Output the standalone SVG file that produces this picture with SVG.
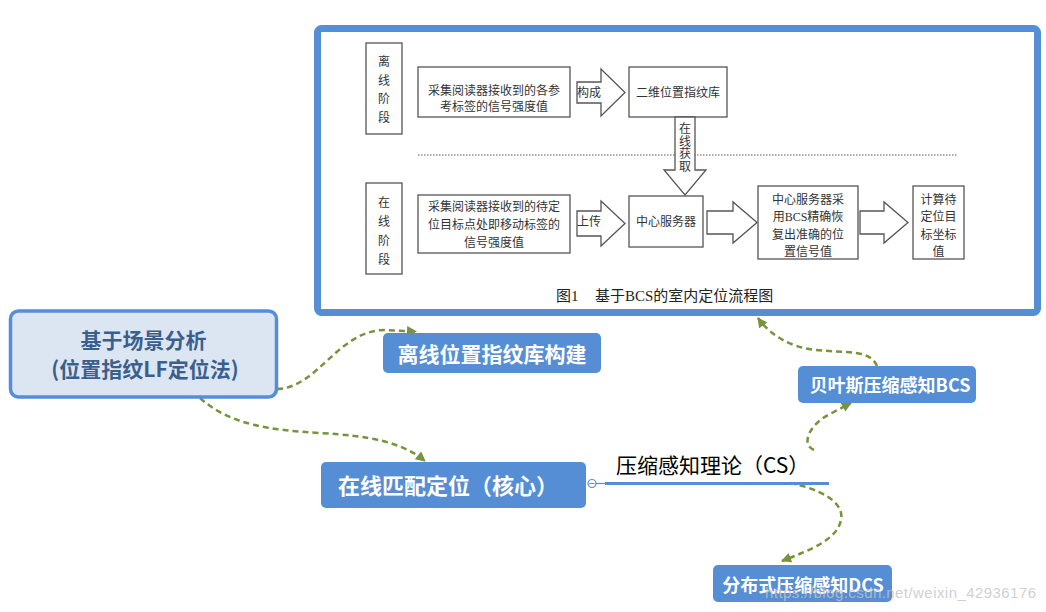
<svg xmlns="http://www.w3.org/2000/svg" width="1046" height="612" viewBox="0 0 1046 612">
<defs>
<style>
.fc{fill:#fff;stroke:#555;stroke-width:1.3}
.ft{font-family:"Liberation Serif","Noto Sans CJK SC",serif;font-size:12px;fill:#333;text-anchor:middle}
.blk{fill:#558ed5}
.wt{font-family:"Noto Sans CJK SC","Noto Sans",sans-serif;font-weight:bold;fill:#fff;text-anchor:middle}
.con{fill:none;stroke:#77933c;stroke-width:2.5;stroke-dasharray:6 4}
</style>
<marker id="ah" viewBox="0 0 10 10" refX="9" refY="5" markerUnits="userSpaceOnUse" markerWidth="11" markerHeight="10" orient="auto">
<path d="M0,0 L10,5 L0,10 Z" fill="#77933c"/>
</marker>
</defs>
<rect width="1046" height="612" fill="#fff"/>

<g id="figure">
<rect x="317.5" y="28.5" width="720" height="284" rx="4" fill="#fff" stroke="#558ed5" stroke-width="7"/>
<rect class="fc" x="366" y="43" width="36" height="91"/>
<text class="ft" x="384" y="66">离</text>
<text class="ft" x="384" y="84.5">线</text>
<text class="ft" x="384" y="103">阶</text>
<text class="ft" x="384" y="121.5">段</text>
<rect class="fc" x="418" y="67" width="152" height="50"/>
<text class="ft" x="494" y="94.5">采集阅读器接收到的各参</text>
<text class="ft" x="494" y="111">考标签的信号强度值</text>
<polygon class="fc" points="577,82 601,82 601,69 625,92.5 601,116 601,103 577,103"/>
<text class="ft" x="589" y="97">构成</text>
<rect class="fc" x="629" y="67" width="98" height="50"/>
<text class="ft" x="678" y="96.5">二维位置指纹库</text>
<line x1="418" y1="155" x2="958" y2="155" stroke="#555" stroke-width="1" stroke-dasharray="1.5 1.5"/>
<polygon class="fc" points="675,117 695,117 695,170 706,170 685,195 664,170 675,170"/>
<text class="ft" x="685" y="132.5">在</text>
<text class="ft" x="685" y="145.5">线</text>
<text class="ft" x="685" y="158">获</text>
<text class="ft" x="685" y="171">取</text>
<rect class="fc" x="366" y="183" width="36" height="91"/>
<text class="ft" x="384" y="207">在</text>
<text class="ft" x="384" y="226">线</text>
<text class="ft" x="384" y="244.5">阶</text>
<text class="ft" x="384" y="263.5">段</text>
<rect class="fc" x="418" y="195" width="152" height="58"/>
<text class="ft" x="494" y="211">采集阅读器接收到的待定</text>
<text class="ft" x="494" y="229">位目标点处即移动标签的</text>
<text class="ft" x="494" y="247">信号强度值</text>
<polygon class="fc" points="577,211 601,211 601,201 625,223.5 601,246 601,236 577,236"/>
<text class="ft" x="589" y="226">上传</text>
<rect class="fc" x="629" y="196" width="74" height="51"/>
<text class="ft" x="666" y="226">中心服务器</text>
<polygon class="fc" points="707,211 733,211 733,202 757,222.5 733,243 733,234 707,234"/>
<rect class="fc" x="758" y="186" width="100" height="73"/>
<text class="ft" x="808" y="203.5">中心服务器采</text>
<text class="ft" x="808" y="221">用BCS精确恢</text>
<text class="ft" x="808" y="238.5">复出准确的位</text>
<text class="ft" x="808" y="256">置信号值</text>
<polygon class="fc" points="860,211 884,211 884,202 908,222.5 884,243 884,234 860,234"/>
<rect class="fc" x="913" y="186" width="51" height="73"/>
<text class="ft" x="938.5" y="203.5">计算待</text>
<text class="ft" x="938.5" y="221">定位目</text>
<text class="ft" x="938.5" y="238.5">标坐标</text>
<text class="ft" x="938.5" y="256">值</text>
<text class="ft" x="556" y="300.5" style="font-size:15px;text-anchor:start;fill:#222">图1</text>
<text class="ft" x="595" y="300.5" style="font-size:15px;text-anchor:start;fill:#222">基于BCS的室内定位流程图</text>
</g>

<g id="connectors">
<path class="con" d="M277,389 C318,388 338,330 385,330 L416,331.5" marker-end="url(#ah)"/>
<path class="con" d="M200,398 C230,425 270,430 320,433 C370,436 402,442 425,461" marker-end="url(#ah)"/>
<path class="con" d="M814,450 C800,444 810,424 830,414 L851,403" marker-end="url(#ah)"/>
<path class="con" d="M790,483 C815,488 845,500 841,520 C837,540 810,550 782,561" marker-end="url(#ah)"/>
<path class="con" d="M877,366 C870,350 850,353 815,350 C790,347 770,335 758,318" marker-end="url(#ah)"/>
</g>

<g id="node-scene">
<rect x="10.5" y="311" width="266" height="86" rx="8" fill="#dce6f2" stroke="#558ed5" stroke-width="3.5"/>
<text x="143.5" y="348" font-family="'Noto Sans CJK SC','Noto Sans',sans-serif" font-weight="bold" font-size="21" fill="#3a5f8f" text-anchor="middle">基于场景分析</text>
<text x="145" y="377" font-family="'Noto Sans CJK SC','Noto Sans',sans-serif" font-weight="bold" font-size="21" fill="#3a5f8f" text-anchor="middle">(位置指纹LF定位法)</text>
</g>

<g id="node-offline">
<rect class="blk" x="383" y="333" width="218" height="40" rx="5"/>
<text class="wt" x="492" y="362" font-size="21">离线位置指纹库构建</text>
</g>

<g id="node-online">
<rect class="blk" x="321" y="462" width="265" height="46" rx="5"/>
<text class="wt" x="448" y="494" font-size="22">在线匹配定位（核心）</text>
</g>

<g id="node-cs">
<line x1="596" y1="483.5" x2="606" y2="483.5" stroke="#558ed5" stroke-width="1.2"/>
<line x1="605" y1="483.5" x2="829" y2="483.5" stroke="#558ed5" stroke-width="3"/>
<circle cx="592" cy="483.5" r="4" fill="#fff" stroke="#558ed5" stroke-width="1.2"/>
<line x1="589.5" y1="483.5" x2="594.5" y2="483.5" stroke="#558ed5" stroke-width="1"/>
<text x="616" y="473" font-family="'Noto Sans CJK SC','Noto Sans',sans-serif" font-size="21" fill="#000">压缩感知理论（CS）</text>
</g>

<g id="node-bcs">
<rect class="blk" x="798" y="366" width="178" height="37" rx="5"/>
<text class="wt" x="890" y="392" font-size="18">贝叶斯压缩感知BCS</text>
</g>

<g id="node-dcs">
<rect class="blk" x="713" y="565" width="179" height="37" rx="5"/>
<text class="wt" x="803" y="592" font-size="18">分布式压缩感知DCS</text>
</g>

<text x="765" y="598" font-family="'Liberation Sans',Arial,sans-serif" font-size="15" fill="#c4c4c4" fill-opacity="0.8" textLength="271">https://blog.csdn.net/weixin_42936176</text>
</svg>
